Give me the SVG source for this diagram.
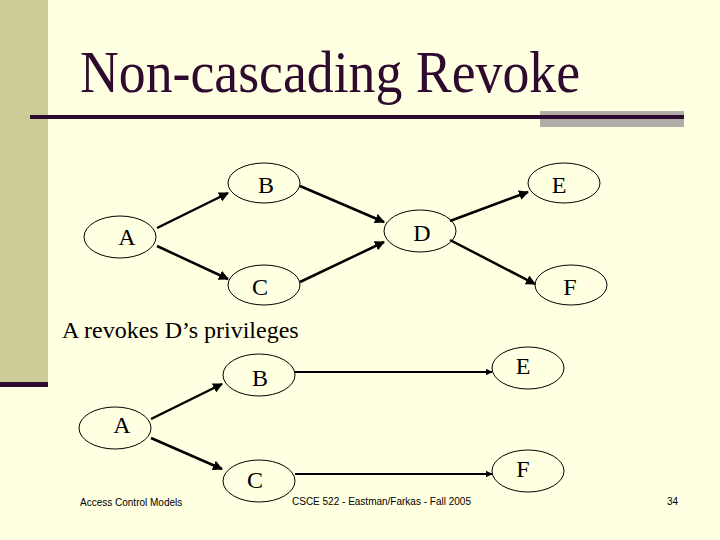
<svg xmlns="http://www.w3.org/2000/svg" width="720" height="540" viewBox="0 0 720 540">
<defs>
<style>
.n ellipse{fill:none;stroke:#000;stroke-width:1}
.n text{font-family:"Liberation Serif",serif;font-size:24px;fill:#000;text-anchor:middle}
.e line{stroke:#000;stroke-width:2.5;marker-end:url(#ah)}
.e line.h{stroke-width:1.8}
.ft{font-family:"Liberation Sans",sans-serif;font-size:10px;fill:#000}
</style>
<marker id="ah" viewBox="0 0 10 10" refX="9" refY="5" markerWidth="4" markerHeight="4" orient="auto" markerUnits="strokeWidth">
<path d="M0,0 L10,5 L0,10 z" fill="#000"/>
</marker>
</defs>
<rect width="720" height="540" fill="#FFFFE1"/>
<rect x="0" y="0" width="48" height="382" fill="#CCCC99"/>
<rect x="0" y="382" width="48" height="5" fill="#2E0A2E"/>
<rect x="540" y="111" width="144" height="16" fill="#AEAEA6"/>
<rect x="30" y="115" width="654" height="4" fill="#2E0A2E"/>
<text x="80" y="92" font-family="Liberation Serif,serif" font-size="59" fill="#2E0A2E" textLength="500" lengthAdjust="spacingAndGlyphs">Non-cascading Revoke</text>
<text x="62" y="338" font-family="Liberation Serif,serif" font-size="24" fill="#000">A revokes D’s privileges</text>

<g id="edges" class="e">
<line x1="157" y1="228" x2="228" y2="193"/>
<line x1="157" y1="246" x2="228" y2="279"/>
<line x1="300" y1="186" x2="384" y2="222"/>
<line x1="300" y1="282" x2="384" y2="242"/>
<line x1="450" y1="221" x2="528" y2="192"/>
<line x1="450" y1="240" x2="535" y2="284"/>
<line x1="151" y1="419" x2="222" y2="384"/>
<line x1="151" y1="438" x2="222" y2="469"/>
<line class="h" x1="295" y1="372" x2="492" y2="372"/>
<line class="h" x1="295" y1="474" x2="492" y2="474"/>
</g>

<g id="nA1" class="n"><ellipse cx="120" cy="237" rx="36" ry="21"/><text x="127" y="245">A</text></g>
<g id="nB1" class="n"><ellipse cx="264" cy="183" rx="36" ry="20"/><text x="266" y="193">B</text></g>
<g id="nC1" class="n"><ellipse cx="264" cy="285" rx="36" ry="20"/><text x="260" y="295">C</text></g>
<g id="nD1" class="n"><ellipse cx="420" cy="231" rx="36" ry="21"/><text x="422" y="241">D</text></g>
<g id="nE1" class="n"><ellipse cx="564" cy="183" rx="36" ry="20"/><text x="559" y="193">E</text></g>
<g id="nF1" class="n"><ellipse cx="571" cy="285" rx="36" ry="20"/><text x="570" y="295">F</text></g>

<g id="nA2" class="n"><ellipse cx="115" cy="428" rx="36" ry="21"/><text x="122" y="433">A</text></g>
<g id="nB2" class="n"><ellipse cx="259" cy="375" rx="36" ry="21"/><text x="260" y="386">B</text></g>
<g id="nC2" class="n"><ellipse cx="259" cy="481" rx="36" ry="21"/><text x="255" y="488">C</text></g>
<g id="nE2" class="n"><ellipse cx="528" cy="368" rx="36" ry="21"/><text x="523" y="374">E</text></g>
<g id="nF2" class="n"><ellipse cx="528" cy="471" rx="36" ry="21"/><text x="523" y="477">F</text></g>

<text class="ft" x="80" y="506">Access Control Models</text>
<text class="ft" x="292" y="505">CSCE 522 - Eastman/Farkas - Fall 2005</text>
<text class="ft" x="667" y="505">34</text>
</svg>
